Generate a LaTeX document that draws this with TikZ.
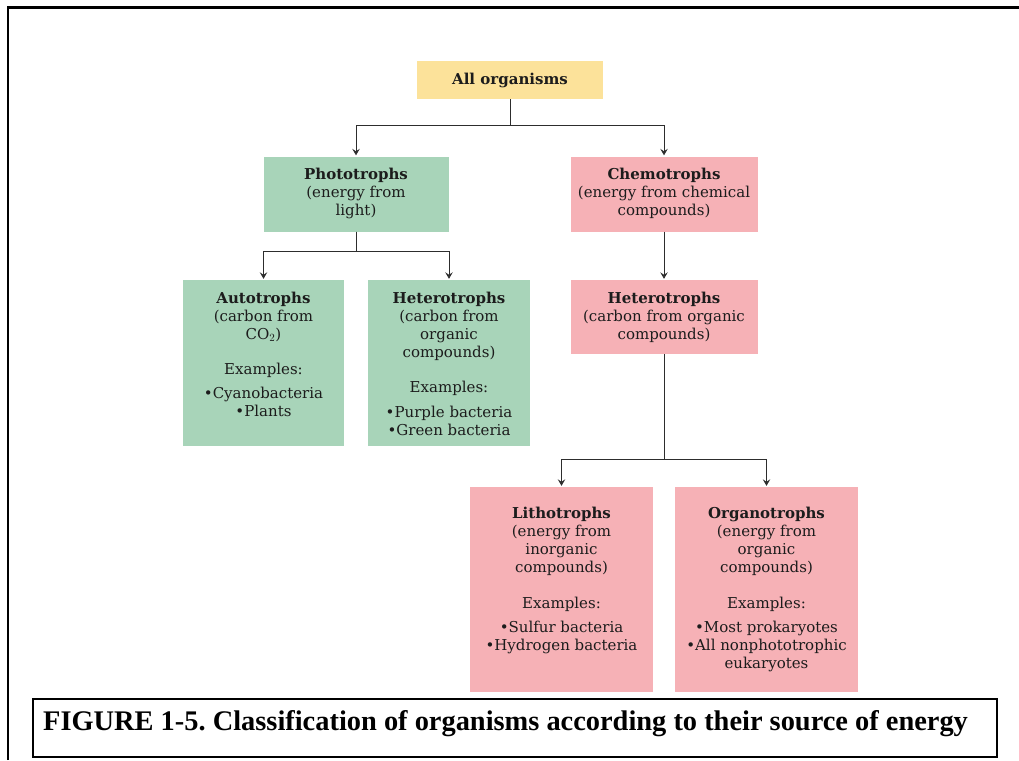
\documentclass[tikz,border=0pt]{standalone}
\usepackage{fontspec}
\setmainfont{DejaVu Serif}
\newfontfamily\capfont{Liberation Serif}
\usetikzlibrary{arrows.meta}
\definecolor{cyel}{RGB}{252,226,154}
\definecolor{cgrn}{RGB}{168,212,185}
\definecolor{cpnk}{RGB}{246,177,182}
\definecolor{ctxt}{RGB}{28,28,28}
\definecolor{cline}{RGB}{45,45,45}
\newcommand{\bxt}[4]{\parbox[t][#2][t]{#1}{\centering\vspace*{#3}\strut #4\par}}
\tikzset{
  orgbox/.style={inner sep=0pt, text=ctxt, font=\fontsize{15}{18}\selectfont},
  conn/.style={draw=cline, line width=0.8pt, shorten >=1pt, -{Stealth[length=6.5pt,width=7.5pt,inset=2.5pt]}},
}
\frenchspacing
\begin{document}
\begin{tikzpicture}[x=1pt,y=-1pt]
\useasboundingbox (0,0) rectangle (1019,760);
% outer frame (top and left edges)
\draw[line width=2.5pt] (8,760) -- (8,7.5) -- (1019,7.5);

\node[orgbox, fill=cyel] (all) at (510,80) {\bxt{186pt}{38pt}{11.4pt}{\textbf{All organisms}}};
\node[orgbox, fill=cgrn] (photo) at (356,194) {\bxt{185pt}{75pt}{10.8pt}{\textbf{Phototrophs}\\(energy from\\light)}};
\node[orgbox, fill=cpnk] (chemo) at (664,194) {\bxt{187pt}{75pt}{10.8pt}{\textbf{Chemotrophs}\\(energy from chemical\\compounds)}};
\node[orgbox, fill=cgrn] (auto) at (263.5,363) {\bxt{161pt}{166pt}{10.8pt}{\textbf{Autotrophs}\\(carbon from\\CO$_2$)\\[17pt]Examples:\\[6pt]\textbullet Cyanobacteria\\\textbullet Plants}};
\node[orgbox, fill=cgrn] (hetg) at (449,363) {\bxt{162pt}{166pt}{10.8pt}{\textbf{Heterotrophs}\\(carbon from\\organic\\compounds)\\[17pt]Examples:\\[7pt]\textbullet Purple bacteria\\\textbullet Green bacteria}};
\node[orgbox, fill=cpnk] (hetp) at (664,317) {\bxt{187pt}{74pt}{10.8pt}{\textbf{Heterotrophs}\\(carbon from organic\\compounds)}};
\node[orgbox, fill=cpnk] (litho) at (561.5,589.5) {\bxt{183pt}{205pt}{18.8pt}{\textbf{Lithotrophs}\\(energy from\\inorganic\\compounds)\\[18pt]Examples:\\[6pt]\textbullet Sulfur bacteria\\\textbullet Hydrogen bacteria}};
\node[orgbox, fill=cpnk] (organo) at (766.5,589.5) {\bxt{183pt}{205pt}{18.8pt}{\textbf{Organotrophs}\\(energy from\\organic\\compounds)\\[18pt]Examples:\\[6pt]\textbullet Most prokaryotes\\\textbullet All nonphototrophic\\eukaryotes}};

\draw[conn] (all.south) -- ++(0,26) -| (photo.north);
\draw[conn] (all.south) -- ++(0,26) -| (chemo.north);
\draw[conn] (photo.south) -- ++(0,20) -| (auto.north);
\draw[conn] (photo.south) -- ++(0,20) -| (hetg.north);
\draw[conn] (chemo.south) -- (hetp.north);
\draw[conn] (hetp.south) -- ++(0,105) -| (litho.north);
\draw[conn] (hetp.south) -- ++(0,105) -| (organo.north);

\node[draw, line width=1.5pt, minimum width=964pt, minimum height=58pt, inner sep=0pt] (capbox) at (515,728) {};
\node[anchor=base west, inner sep=0pt, font=\capfont\bfseries\fontsize{28.4}{32}\selectfont] (cap) at (43,730) {FIGURE 1-5. Classification of organisms according to their source of energy};
\end{tikzpicture}
\end{document}
